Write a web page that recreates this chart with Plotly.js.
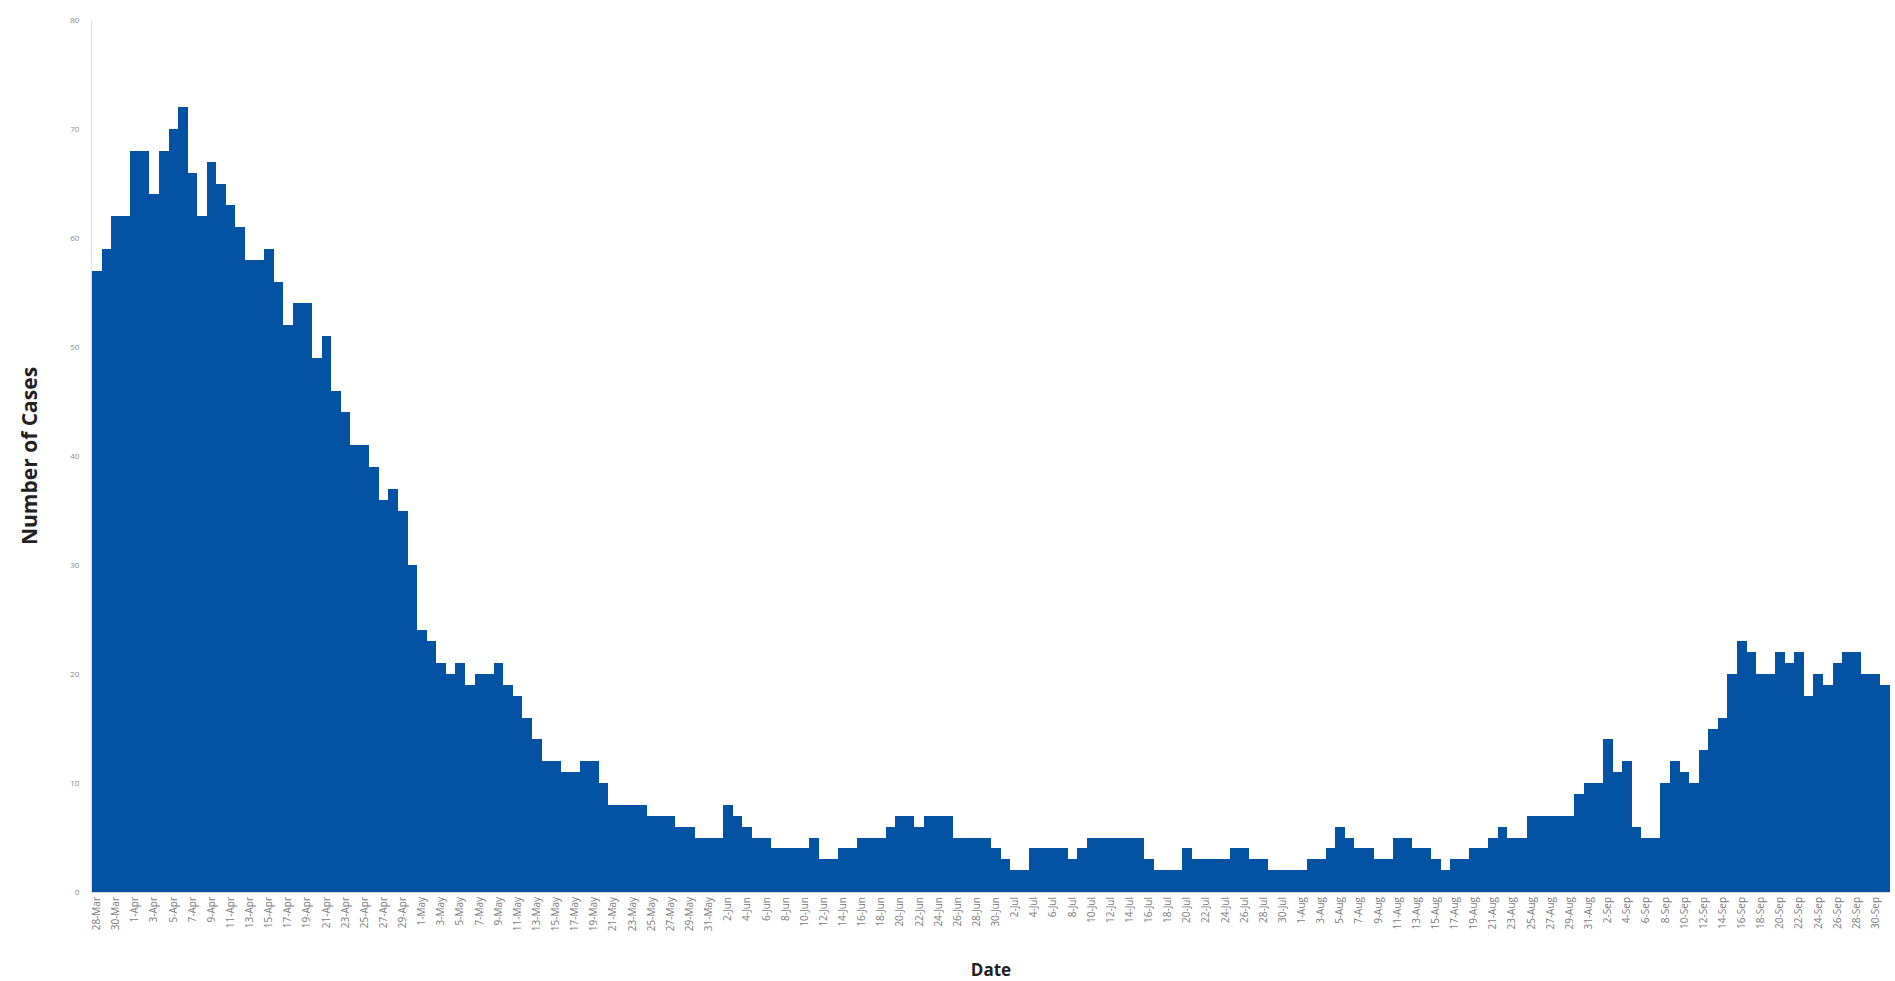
<!DOCTYPE html>
<html>
<head>
<meta charset="utf-8">
<script src="https://cdn.plot.ly/plotly-3.0.1.min.js"></script>
<style>
  html, body { margin: 0; padding: 0; background: #ffffff; }
  #chart { width: 1895px; height: 981px; }
</style>
</head>
<body>
<div id="chart"></div>
<script>
// Daily dates (categories), 28-Mar to 1-Oct
const datesMar = ["28-Mar","29-Mar","30-Mar","31-Mar"];
const datesApr = ["1-Apr","2-Apr","3-Apr","4-Apr","5-Apr","6-Apr","7-Apr","8-Apr","9-Apr","10-Apr","11-Apr","12-Apr","13-Apr","14-Apr","15-Apr","16-Apr","17-Apr","18-Apr","19-Apr","20-Apr","21-Apr","22-Apr","23-Apr","24-Apr","25-Apr","26-Apr","27-Apr","28-Apr","29-Apr","30-Apr"];
const datesMay = ["1-May","2-May","3-May","4-May","5-May","6-May","7-May","8-May","9-May","10-May","11-May","12-May","13-May","14-May","15-May","16-May","17-May","18-May","19-May","20-May","21-May","22-May","23-May","24-May","25-May","26-May","27-May","28-May","29-May","30-May","31-May"];
const datesJun = ["1-Jun","2-Jun","3-Jun","4-Jun","5-Jun","6-Jun","7-Jun","8-Jun","9-Jun","10-Jun","11-Jun","12-Jun","13-Jun","14-Jun","15-Jun","16-Jun","17-Jun","18-Jun","19-Jun","20-Jun","21-Jun","22-Jun","23-Jun","24-Jun","25-Jun","26-Jun","27-Jun","28-Jun","29-Jun","30-Jun"];
const datesJul = ["1-Jul","2-Jul","3-Jul","4-Jul","5-Jul","6-Jul","7-Jul","8-Jul","9-Jul","10-Jul","11-Jul","12-Jul","13-Jul","14-Jul","15-Jul","16-Jul","17-Jul","18-Jul","19-Jul","20-Jul","21-Jul","22-Jul","23-Jul","24-Jul","25-Jul","26-Jul","27-Jul","28-Jul","29-Jul","30-Jul","31-Jul"];
const datesAug = ["1-Aug","2-Aug","3-Aug","4-Aug","5-Aug","6-Aug","7-Aug","8-Aug","9-Aug","10-Aug","11-Aug","12-Aug","13-Aug","14-Aug","15-Aug","16-Aug","17-Aug","18-Aug","19-Aug","20-Aug","21-Aug","22-Aug","23-Aug","24-Aug","25-Aug","26-Aug","27-Aug","28-Aug","29-Aug","30-Aug","31-Aug"];
const datesSep = ["1-Sep","2-Sep","3-Sep","4-Sep","5-Sep","6-Sep","7-Sep","8-Sep","9-Sep","10-Sep","11-Sep","12-Sep","13-Sep","14-Sep","15-Sep","16-Sep","17-Sep","18-Sep","19-Sep","20-Sep","21-Sep","22-Sep","23-Sep","24-Sep","25-Sep","26-Sep","27-Sep","28-Sep","29-Sep","30-Sep"];
const datesOct = ["1-Oct"];

// Daily number of cases
const casesMar = [57,59,62,62];
const casesApr = [68,68,64,68,70,72,66,62,67,65,63,61,58,58,59,56,52,54,54,49,51,46,44,41,41,39,36,37,35,30];
const casesMay = [24,23,21,20,21,19,20,20,21,19,18,16,14,12,12,11,11,12,12,10,8,8,8,8,7,7,7,6,6,5,5];
const casesJun = [5,8,7,6,5,5,4,4,4,4,5,3,3,4,4,5,5,5,6,7,7,6,7,7,7,5,5,5,5,4];
const casesJul = [3,2,2,4,4,4,4,3,4,5,5,5,5,5,5,3,2,2,2,4,3,3,3,3,4,4,3,3,2,2,2];
const casesAug = [2,3,3,4,6,5,4,4,3,3,5,5,4,4,3,2,3,3,4,4,5,6,5,5,7,7,7,7,7,9,10];
const casesSep = [10,14,11,12,6,5,5,10,12,11,10,13,15,16,20,23,22,20,20,22,21,22,18,20,19,21,22,22,20,20];
const casesOct = [19];

// Tick labels shown on the date axis (every second day)
const tickLabels = ["28-Mar","30-Mar",
  "1-Apr","3-Apr","5-Apr","7-Apr","9-Apr","11-Apr","13-Apr","15-Apr","17-Apr","19-Apr","21-Apr","23-Apr","25-Apr","27-Apr","29-Apr",
  "1-May","3-May","5-May","7-May","9-May","11-May","13-May","15-May","17-May","19-May","21-May","23-May","25-May","27-May","29-May","31-May",
  "2-Jun","4-Jun","6-Jun","8-Jun","10-Jun","12-Jun","14-Jun","16-Jun","18-Jun","20-Jun","22-Jun","24-Jun","26-Jun","28-Jun","30-Jun",
  "2-Jul","4-Jul","6-Jul","8-Jul","10-Jul","12-Jul","14-Jul","16-Jul","18-Jul","20-Jul","22-Jul","24-Jul","26-Jul","28-Jul","30-Jul",
  "1-Aug","3-Aug","5-Aug","7-Aug","9-Aug","11-Aug","13-Aug","15-Aug","17-Aug","19-Aug","21-Aug","23-Aug","25-Aug","27-Aug","29-Aug","31-Aug",
  "2-Sep","4-Sep","6-Sep","8-Sep","10-Sep","12-Sep","14-Sep","16-Sep","18-Sep","20-Sep","22-Sep","24-Sep","26-Sep","28-Sep","30-Sep"];

const yTicks = [0,10,20,30,40,50,60,70,80];

const dates = [].concat(datesMar, datesApr, datesMay, datesJun, datesJul, datesAug, datesSep, datesOct);
const cases = [].concat(casesMar, casesApr, casesMay, casesJun, casesJul, casesAug, casesSep, casesOct);

const trace = {
  type: 'bar',
  x: dates,
  y: cases,
  marker: { color: '#0452a3', line: { width: 0 } },
  hoverinfo: 'x+y'
};

const layout = {
  width: 1895,
  height: 981,
  margin: { l: 92, r: 5, t: 20, b: 89 },
  paper_bgcolor: '#ffffff',
  plot_bgcolor: '#ffffff',
  bargap: 0,
  showlegend: false,
  font: { family: 'Open Sans, Liberation Sans, sans-serif', color: '#808080' },
  xaxis: {
    type: 'category',
    categoryorder: 'array',
    categoryarray: dates,
    tickmode: 'array',
    tickvals: tickLabels,
    ticktext: tickLabels,
    tickangle: -90,
    tickfont: { size: 10, color: '#7a7a7a' },
    showgrid: false,
    zeroline: false,
    showline: true,
    linecolor: '#d8d8d8',
    linewidth: 1,
    ticks: '',
    automargin: false,
    title: { text: 'Date', font: { size: 17, color: '#222222', family: 'Open Sans, sans-serif', weight: 'bold' }, standoff: 36 }
  },
  yaxis: {
    range: [0, 80],
    tickmode: 'array',
    tickvals: yTicks,
    ticktext: yTicks.map(String),
    tickfont: { size: 8, color: '#8a8a8a' },
    showgrid: false,
    zeroline: false,
    showline: true,
    linecolor: '#e0e0e0',
    linewidth: 1,
    ticks: '',
    ticklabelstandoff: 10,
    automargin: false,
    title: { text: 'Number of Cases', font: { size: 21, color: '#222222', family: 'Open Sans, sans-serif', weight: 'bold' }, standoff: 26 }
  }
};

Plotly.newPlot('chart', [trace], layout, { displayModeBar: false, staticPlot: false });
</script>
</body>
</html>
